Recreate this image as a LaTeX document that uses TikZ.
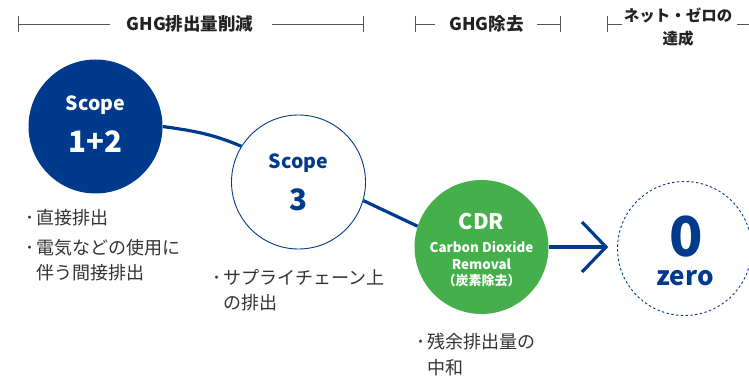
\documentclass[tikz,border=0pt]{standalone}
\usepackage{fontspec}
\setmainfont{Noto Sans CJK JP}
\usetikzlibrary{backgrounds}
\definecolor{navy}{RGB}{0,58,140}
\definecolor{cdrgreen}{RGB}{69,176,75}
\definecolor{bodytext}{RGB}{51,51,51}
\definecolor{hdrtext}{RGB}{34,34,34}
\definecolor{hdrline}{RGB}{85,85,85}
\newcommand{\mybul}{\llap{･\hspace{2pt}}}
\newcommand{\fs}[1]{\fontsize{#1}{#1}\selectfont}
\begin{document}
\begin{tikzpicture}[x=1pt,y=-1pt,
  circ/.style={circle, minimum size=134pt, inner sep=0pt},
  conn/.style={draw=navy, line width=3.2pt},
  hdr/.style={font=\bfseries\fs{17.5}, text=hdrtext, inner sep=0pt},
  hdrsmall/.style={font=\bfseries\fontsize{15.5}{23}\selectfont, text=hdrtext, inner sep=0pt, align=center},
  hline/.style={draw=hdrline, line width=0.9pt},
  body/.style={font=\fs{18}, text=bodytext, inner sep=0pt, anchor=west},
  ctext/.style={inner sep=0pt, font=\bfseries}
]
\useasboundingbox (0,0) rectangle (749,379);

% header
\coordinate (ta1) at (18,16); \coordinate (tb1) at (18,32); \coordinate (l1s) at (18,24); \coordinate (l1e) at (110,24);
\coordinate (l2s) at (272,24); \coordinate (l2e) at (363,24); \coordinate (ta2) at (363,16); \coordinate (tb2) at (363,32);
\draw[hline] (ta1) -- (tb1); \draw[hline] (l1s) -- (l1e);
\draw[hline] (l2s) -- (l2e); \draw[hline] (ta2) -- (tb2);
\node[hdr] (h1) at (190,24) {GHG排出量削減};

\coordinate (ta3) at (415,16); \coordinate (tb3) at (415,32); \coordinate (l3s) at (415,24); \coordinate (l3e) at (435,24);
\coordinate (l4s) at (537,24); \coordinate (l4e) at (560,24); \coordinate (ta4) at (560,16); \coordinate (tb4) at (560,32);
\draw[hline] (ta3) -- (tb3); \draw[hline] (l3s) -- (l3e);
\draw[hline] (l4s) -- (l4e); \draw[hline] (ta4) -- (tb4);
\node[hdr] (h2) at (486.5,24) {GHG除去};

\coordinate (ta5) at (607,16); \coordinate (tb5) at (607,32); \coordinate (l5s) at (607,24); \coordinate (l5e) at (622,24);
\coordinate (l6s) at (737,24); \coordinate (l6e) at (749,24);
\draw[hline] (ta5) -- (tb5); \draw[hline] (l5s) -- (l5e);
\draw[hline] (l6s) -- (l6e);
\node[hdrsmall] (h3) at (678,27.5) {ネット・ゼロの\\達成};

% circles
\node[circ, fill=navy] (s12) at (95.5,126.5) {};
\node[circ, draw=navy, line width=0.9pt, fill=white] (s3) at (298.5,182) {};
\node[circ, fill=cdrgreen] (cdr) at (481.5,247) {};
\node[circ, draw=navy, line width=0.9pt, dash pattern=on 2.4pt off 2.4pt] (zero) at (684.5,248.5) {};

% connectors
\begin{scope}[on background layer]
\draw[conn] (s12.east) to[out=-8, in=157] (s3.148);
\draw[conn] (s3.-16) -- (cdr.162);
\end{scope}
\coordinate (tip) at (606,247);
\coordinate (chevt) at (582,222);
\coordinate (chevb) at (582,272);
\draw[conn] (cdr.east) -- (tip);
\draw[conn] (chevt) -- (tip) -- (chevb);

% circle texts
\node[ctext, text=white, font=\bfseries\fs{19.5}] (s12a) at (95.5,105) {Scope};
\node[ctext, text=white, font=\bfseries\fs{29.5}] (s12b) at (95.5,141.5) {1+2};
\node[ctext, text=navy, font=\bfseries\fs{19.5}] (s3a) at (298.5,163) {Scope};
\node[ctext, text=navy, font=\bfseries\fs{29.5}] (s3b) at (298.5,200) {3};
\node[ctext, text=white, font=\bfseries\fs{21.5}] (cdra) at (481.5,222) {CDR};
\node[ctext, text=white, font=\bfseries\fs{13.4}] (cdrb) at (481.5,247) {Carbon Dioxide};
\node[ctext, text=white, font=\bfseries\fs{13.4}] (cdrc) at (481.5,264) {Removal};
\node[ctext, text=white, font=\bfseries\fs{13}] (cdrd) at (481.5,281) {（炭素除去）};
\node[ctext, text=navy, font=\bfseries\fs{55}] (z0) at (686,237) {0};
\node[ctext, text=navy, font=\bfseries\fs{26}] (z1) at (685,278.5) {zero};

% bullet texts
\node[body] (b1) at (36,218) {\mybul 直接排出};
\node[body] (b2) at (36,248) {\mybul 電気などの使用に};
\node[body] (b2b) at (36,273) {伴う間接排出};
\node[body] (b3) at (223,277) {\mybul サプライチェーン上};
\node[body] (b3b) at (223,303) {の排出};
\node[body] (b4) at (427,342) {\mybul 残余排出量の};
\node[body] (b4b) at (427,368) {中和};
\end{tikzpicture}
\end{document}
